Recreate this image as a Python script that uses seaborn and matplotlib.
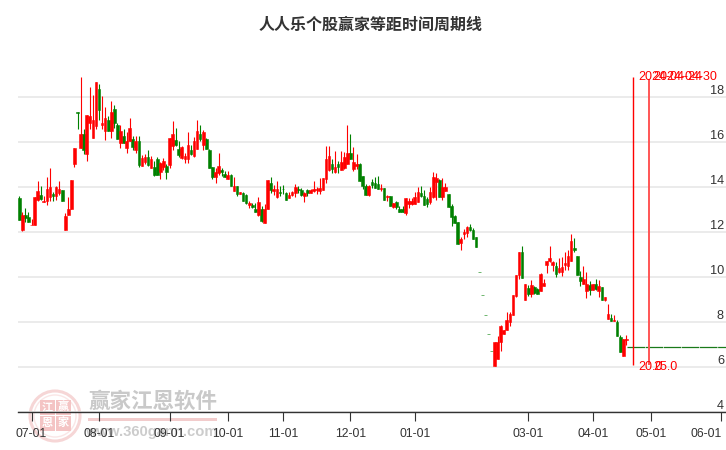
import pandas as pd
import matplotlib
matplotlib.use("Agg")
import matplotlib.pyplot as plt
import seaborn as sns
from matplotlib.patches import Circle, Rectangle

# daily candles, one entry per trading slot
tops = [13.51,12.76,12.76,12.67,12.33,13.56,13.82,13.64,13.38,13.91,14.00,13.69,14.00,13.91,13.87,
        12.71,13.02,14.31,15.73,17.33,16.36,16.36,17.20,17.17,16.98,18.68,18.37,16.85,17.07,16.99,
        17.35,17.47,16.73,16.50,16.28,16.02,16.64,16.15,16.02,16.02,15.30,15.35,15.35,15.22,14.90,
        15.26,15.08,15.17,14.95,16.19,16.37,16.10,15.70,15.79,15.39,15.88,15.62,16.02,16.50,16.33,
        16.42,16.15,15.66,14.90,14.68,14.95,14.77,14.59,14.55,14.55,14.06,14.02,13.78,
        13.73,13.66,13.29,13.21,13.04,13.35,13.04,13.04,14.33,14.19,13.90,13.93,13.79,13.93,13.75,
        13.66,13.79,14.01,13.93,13.88,13.75,13.88,13.88,13.93,13.93,13.97,14.41,15.22,15.39,15.00,
        14.90,15.00,15.13,15.35,15.53,15.53,15.13,15.04,15.04,14.50,14.06,14.06,14.24,14.19,14.15,
        13.97,13.97,13.59,13.61,13.29,13.35,13.04,13.04,13.53,13.39,13.39,13.57,13.79,13.75,13.61,
        13.48,13.79,14.46,14.41,14.33,14.01,14.01,13.70,13.17,12.73,12.46,11.70,12.01,12.24,12.24,
        12.10,11.79,
        10.23,9.21,8.32,7.48,6.72,
        7.13,7.13,7.84,7.66,8.10,8.37,9.21,10.10,11.13,11.13,9.70,9.53,9.66,9.57,9.48,10.15,9.75,
        10.73,10.86,10.68,10.50,10.41,10.46,10.64,10.95,11.61,11.30,10.95,10.01,9.93,9.70,9.66,
        9.70,9.70,9.61,9.57,9.13,8.37,8.19,8.10,8.02,7.35,7.26,7.26]
bottoms = [12.52,12.07,12.62,12.43,12.30,12.30,13.44,13.48,13.33,13.38,13.57,13.59,13.61,13.73,13.36,
           12.07,12.77,13.02,15.01,17.30,15.75,15.62,15.45,16.85,16.19,16.70,17.44,16.74,16.50,16.50,
           16.50,16.82,16.15,15.97,15.93,15.75,16.02,15.79,15.62,14.99,14.95,15.13,14.99,14.82,14.55,
           14.55,14.68,14.90,14.68,14.99,15.84,15.88,15.44,15.30,15.26,15.22,15.48,15.39,15.70,16.15,
           15.88,15.70,14.86,14.46,14.46,14.64,14.68,14.42,14.37,14.02,13.84,13.70,13.70,
           13.39,13.27,13.21,13.13,12.90,12.76,12.50,12.41,13.00,13.88,13.81,13.56,13.72,13.90,13.44,
           13.53,13.66,13.75,13.88,13.66,13.61,13.75,13.75,13.82,13.88,13.82,13.88,14.37,14.77,14.81,
           14.68,14.90,14.77,14.86,15.00,15.26,14.81,14.95,14.28,14.06,13.66,13.66,14.10,13.97,13.93,
           13.93,13.44,13.54,13.17,13.13,13.13,12.90,12.90,12.82,13.26,13.26,13.26,13.35,13.61,13.21,
           13.26,13.35,13.57,14.24,13.57,13.57,13.84,13.13,12.68,12.41,11.48,11.53,11.93,11.97,12.10,
           11.70,11.35,
           10.20,9.18,8.29,7.45,6.69,
           6.03,6.37,7.13,7.48,7.66,8.02,8.33,9.17,10.10,9.97,8.99,9.26,9.26,9.30,9.26,9.39,9.61,
           10.55,10.71,10.55,10.15,10.24,10.24,10.55,10.50,10.73,11.21,10.10,9.84,9.70,9.39,9.44,
           9.44,9.48,9.39,8.99,8.99,8.15,8.06,8.06,7.39,6.68,6.50,7.19]
highs = [13.61,12.89,13.07,12.89,12.58,13.56,14.28,14.02,13.61,14.46,14.86,13.79,14.06,14.28,13.87,
         12.85,13.57,14.31,15.73,17.33,18.90,16.59,17.20,18.42,18.10,18.68,18.59,18.02,17.53,17.13,
         17.84,17.62,16.86,16.77,16.59,16.42,17.08,16.28,16.28,16.28,15.44,15.48,15.62,15.39,15.17,
         15.35,15.13,15.30,15.04,16.19,16.95,16.64,16.02,15.84,15.53,16.46,15.88,16.24,16.99,16.73,
         16.55,16.19,15.70,14.90,14.86,15.53,14.86,14.73,14.73,14.59,14.46,14.06,13.78,
         13.76,13.70,13.38,13.30,13.30,13.56,13.17,13.26,14.33,14.46,14.10,14.28,14.02,14.10,13.79,
         13.79,13.84,14.15,14.06,13.97,13.79,13.93,13.93,14.28,14.01,14.41,14.41,15.84,15.84,15.22,
         15.61,15.17,15.61,15.57,16.73,16.33,15.79,15.48,15.08,14.50,14.15,14.10,14.37,14.46,14.50,
         14.15,13.97,13.66,13.61,13.30,13.39,13.17,13.17,13.53,13.53,13.53,13.79,14.01,14.06,13.88,
         13.57,14.01,14.68,14.64,14.37,14.41,14.19,13.70,13.26,12.77,12.46,11.79,12.15,12.28,12.37,
         12.19,11.79,
         10.23,9.21,8.32,7.48,6.72,
         7.13,7.39,7.88,7.66,8.46,8.46,9.21,10.10,11.13,11.39,9.70,9.66,9.88,9.61,9.53,10.19,9.93,
         10.73,11.39,10.73,10.68,10.86,10.90,11.13,11.21,11.93,11.75,10.95,10.28,10.50,10.24,9.84,
         9.70,9.93,9.88,9.57,9.13,8.81,8.37,8.33,8.10,7.44,7.26,7.44]
lows = [12.52,12.03,12.43,12.43,12.30,12.30,13.36,13.44,13.32,13.19,13.36,13.36,13.44,13.64,13.36,
        12.07,12.77,13.02,14.87,16.59,15.73,15.48,15.14,16.59,16.19,16.59,16.99,16.59,16.10,16.50,
        16.19,16.64,16.13,15.75,15.93,15.53,16.02,15.62,15.53,14.90,14.95,15.04,14.95,14.82,14.50,
        14.55,14.37,14.77,14.37,14.86,15.66,15.84,15.35,15.22,15.08,15.08,15.44,15.35,15.70,16.06,
        15.66,15.70,14.86,14.37,14.19,14.55,14.50,14.42,14.37,14.02,13.84,13.61,13.70,
        13.38,13.26,13.08,13.08,12.90,12.73,12.46,12.41,13.00,13.75,13.66,13.53,13.61,13.70,13.44,
        13.53,13.61,13.57,13.75,13.61,13.35,13.61,13.75,13.79,13.70,13.70,13.88,14.19,14.73,14.64,
        14.64,14.64,14.77,14.81,15.00,15.26,14.73,14.81,14.28,13.93,13.66,13.61,13.97,13.97,13.93,
        13.84,13.44,13.39,13.17,13.08,13.00,12.90,12.90,12.77,13.08,13.21,13.26,13.35,13.57,13.21,
        13.13,13.26,13.53,13.44,13.57,13.44,13.84,13.13,12.28,12.41,11.48,11.21,11.70,11.79,12.06,
        11.70,11.35,
        10.20,9.18,8.29,7.45,6.69,
        6.03,6.37,6.73,7.48,7.66,7.84,8.33,9.13,9.93,9.97,8.99,9.17,9.13,9.26,9.23,9.39,9.61,
        10.19,10.68,10.28,10.01,10.19,10.06,10.33,10.33,10.73,11.13,10.10,9.61,9.70,9.08,9.21,
        9.44,9.44,9.13,8.99,8.95,8.15,8.06,8.06,7.39,6.68,6.50,6.99]
# slots that closed down
greens = [0,2,3,7,11,14,19,21,26,29,31,32,34,37,39,42,44,45,48,51,52,56,59,61,62,63,66,67,69,71,
          73,74,76,77,79,82,85,86,87,91,92,94,102,104,108,111,112,113,115,116,117,119,121,123,124,125,
          131,132,133,137,140,141,142,143,147,148,149,150,151,152,153,154,
          164,166,168,169,175,181,182,183,186,188,190,193,195,196]

grid_values = [4, 6, 8, 10, 12, 14, 16, 18]
tick_slots = [4, 26, 49, 68, 86, 108, 129, 166, 187, 206, 229]
tick_labels = ["07-01", "08-01", "09-01", "10-01", "11-01", "12-01", "01-01", "03-01", "04-01", "05-01", "06-01"]
cycle_slots = [200.3, 205.4]
cycle_tops = [18.88, 18.8]
cycle_dates = ["2024-04-24", "2024-04-30"]
cycle_values = ["20.0", "25.0"]
last_close = 6.89

sns.set_theme(style="white")
plt.rcParams["font.family"] = ["Liberation Sans", "Noto Sans CJK SC", "DejaVu Sans"]

df = pd.DataFrame({"slot": range(len(tops)), "top": tops, "bottom": bottoms, "high": highs, "low": lows})
df["height"] = df["top"] - df["bottom"]
df["color"] = "#ff0000"
df.loc[df["slot"].isin(greens), "color"] = "#008000"

fig = plt.figure(figsize=(7.26, 4.5), dpi=100)

# watermark sits under the chart
wm = fig.add_axes([0, 0, 1, 1], zorder=0)
wm.set_xlim(0, 726)
wm.set_ylim(450, 0)
wm.axis("off")
wm.add_patch(Circle((55, 416), 25, fill=False, ec="#f6d6d6", lw=2.2))
wm.add_patch(Circle((55, 416), 21, fill=False, ec="#fae6e6", lw=1))
tile_xs = [40, 56, 40, 56]
tile_ys = [400, 400, 416, 416]
tile_chars = ["江", "赢", "恩", "家"]
for tx, ty, ch in zip(tile_xs, tile_ys, tile_chars):
    wm.add_patch(Rectangle((tx, ty), 15, 14.5, color="#f4c4c4", lw=0))
    wm.text(tx + 7.5, ty + 7, ch, color="white", fontsize=8, ha="center", va="center", fontweight="bold")
wm.text(153, 402, "赢家江恩软件", color="#c9c9c9", fontsize=15.5, ha="center", va="center", fontweight="bold")
wm.add_patch(Rectangle((88, 418), 129, 3, color="#f2cccc", lw=0))
wm.text(151, 432, "www.360gann.com", color="#cccccc", fontsize=10.6, ha="center", va="center", fontweight="bold")

ax = fig.add_axes([18 / 726, 38 / 450, 708 / 726, 352 / 450], zorder=1)
ax.patch.set_alpha(0)

ax.vlines(df["slot"], df["low"], df["high"], colors=df["color"], lw=0.8, zorder=3)
for col, part in df.groupby("color"):
    sns.barplot(data=part, x="slot", y="height", bottom=part["bottom"].values, native_scale=True,
                width=0.86, color=col, saturation=1, errorbar=None, linewidth=0.4, edgecolor=col,
                ax=ax, zorder=4)

ax.hlines(last_close, 198.3, 230.5, colors="#1a7a1a", lw=0.9, linestyles=(0, (14, 0.5)), zorder=3)
ax.vlines(cycle_slots, 6.07, cycle_tops, colors=["#ff0000", "#ff5555"], lw=[1.0, 1.4], zorder=5)
for s, d, v in zip(cycle_slots, cycle_dates, cycle_values):
    ax.annotate(d, (s, 18.89), xytext=(3.2, 0), textcoords="offset points", color="#ff0000",
                fontsize=9, va="center", zorder=6)
    ax.annotate(v, (s, 6.01), xytext=(3.2, 0), textcoords="offset points", color="#ff0000",
                fontsize=9, va="center", zorder=6)

ax.set_xlim(-0.42, 230.5)
ax.set_ylim(4, 19.64)
ax.set_xlabel("")
ax.set_ylabel("")
ax.set_axisbelow(True)
ax.yaxis.grid(True, color="#e6e6e6", lw=1.1)
ax.xaxis.grid(False)
for side in ["left", "right", "top"]:
    ax.spines[side].set_visible(False)
ax.spines["bottom"].set_color("#333333")
ax.spines["bottom"].set_linewidth(1.0)

ax.set_xticks(tick_slots)
ax.set_xticklabels(tick_labels, fontsize=8.8, color="#333333")
ax.tick_params(axis="x", length=6.5, width=0.8, color="#333333", pad=5, bottom=True)
ax.get_xticklabels()[-1].set_ha("right")
ax.get_xticklabels()[-1].set_x(tick_slots[-1] + 0.5)

ax.yaxis.tick_right()
ax.set_yticks(grid_values)
ax.set_yticklabels([str(v) for v in grid_values], fontsize=9.2, color="#333333", ha="right", va="bottom")
ax.tick_params(axis="y", length=0, pad=-1.5)

fig.text(371 / 726, 1 - 25 / 450, "人人乐个股赢家等距时间周期线", fontsize=11.5, color="#333333",
         ha="center", va="center", fontweight="bold", family=["Noto Sans CJK SC", "DejaVu Sans"])

fig.savefig("out.png", dpi=100)
